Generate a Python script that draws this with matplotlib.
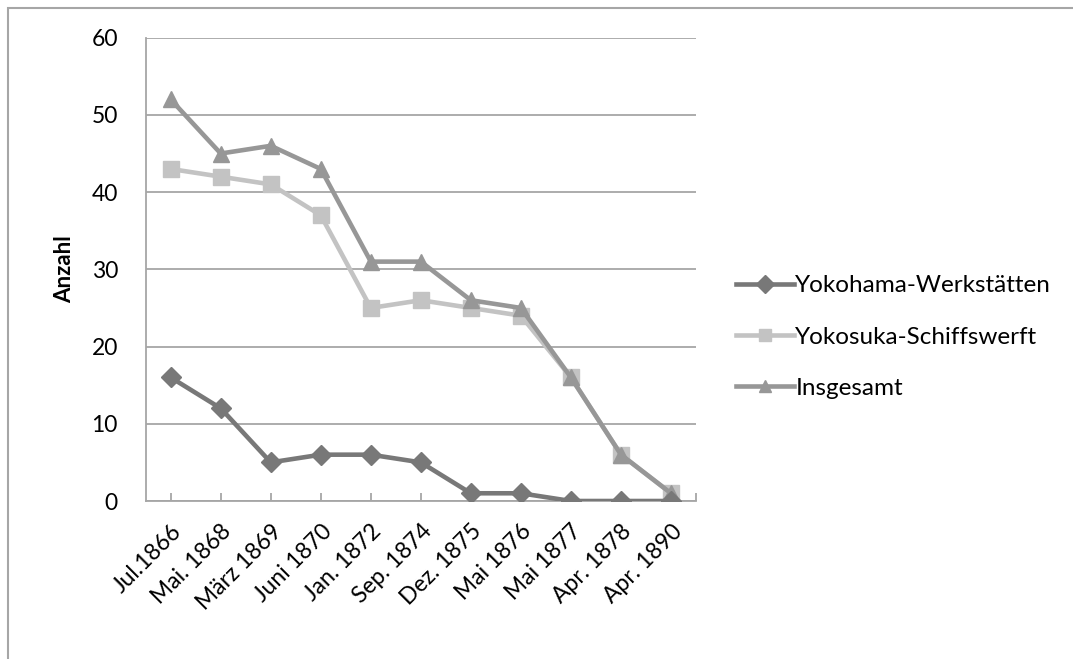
import matplotlib
matplotlib.use("Agg")
import matplotlib.pyplot as plt
from matplotlib.patches import Rectangle

# data
dates = ["Jul.1866", "Mai. 1868", "März 1869", "Juni 1870", "Jan. 1872", "Sep. 1874",
         "Dez. 1875", "Mai 1876", "Mai 1877", "Apr. 1878", "Apr. 1890"]
yokohama = [16, 12, 5, 6, 6, 5, 1, 1, 0, 0, 0]
yokosuka = [43, 42, 41, 37, 25, 26, 25, 24, 16, 6, 1]
insgesamt = [52, 45, 46, 43, 31, 31, 26, 25, 16, 6, 1]
y_ticks = [0, 10, 20, 30, 40, 50, 60]

plt.rcParams['font.family'] = ['Lato', 'DejaVu Sans']

fig = plt.figure(figsize=(10.73, 6.59), dpi=100)
ax = fig.add_axes([145.7 / 1073, 1 - 501 / 659, (696 - 145.7) / 1073, (501 - 37.7) / 659])

x = list(range(len(dates)))
grid_col = "#a6a6a6"

l1, = ax.plot(x, yokohama, color="#787878", lw=3.3, marker="D", ms=10, zorder=5,
              label="Yokohama-Werkstätten")
l2, = ax.plot(x, yokosuka, color="#c3c3c3", lw=3.3, marker="s", ms=11, zorder=3,
              label="Yokosuka-Schiffswerft")
l3, = ax.plot(x, insgesamt, color="#979797", lw=3.3, marker="^", ms=12, zorder=4,
              label="Insgesamt")

ax.set_xlim(-0.5, len(dates) - 0.5)
ax.set_ylim(0, 60)
ax.set_yticks(y_ticks)
ax.yaxis.grid(True, color=grid_col, lw=1.3)
ax.set_axisbelow(True)
ax.tick_params(axis="y", length=0, labelsize=16.5, pad=20)

ax.set_xticks(x + [len(dates) - 0.5])
ax.set_xticklabels(dates + [""], rotation=45, ha="right", rotation_mode="anchor")
ax.tick_params(axis="x", direction="in", length=6, width=1.3, color=grid_col,
               labelsize=16.5, pad=14)

for s in ["top", "right"]:
    ax.spines[s].set_visible(False)
for s in ["left", "bottom"]:
    ax.spines[s].set_color(grid_col)
    ax.spines[s].set_linewidth(1.3)

ax.set_ylabel("Anzahl", fontsize=16, fontweight="bold", labelpad=12)

leg = fig.legend(handles=[l1, l2, l3], loc="center left",
                 bbox_to_anchor=(714 / 1073, 1 - 337 / 659),
                 frameon=False, fontsize=17.5, handlelength=2.4, handletextpad=0.05,
                 labelspacing=1.25)
for h in leg.legend_handles:
    h.set_markersize(9)

# outer chart border
fig.patches.append(Rectangle((8 / 1073, -0.1), 1.2, 1 - 8 / 659 + 0.1, transform=fig.transFigure,
                             fill=False, edgecolor=grid_col, lw=1.5))

fig.savefig("out.png", dpi=100)
